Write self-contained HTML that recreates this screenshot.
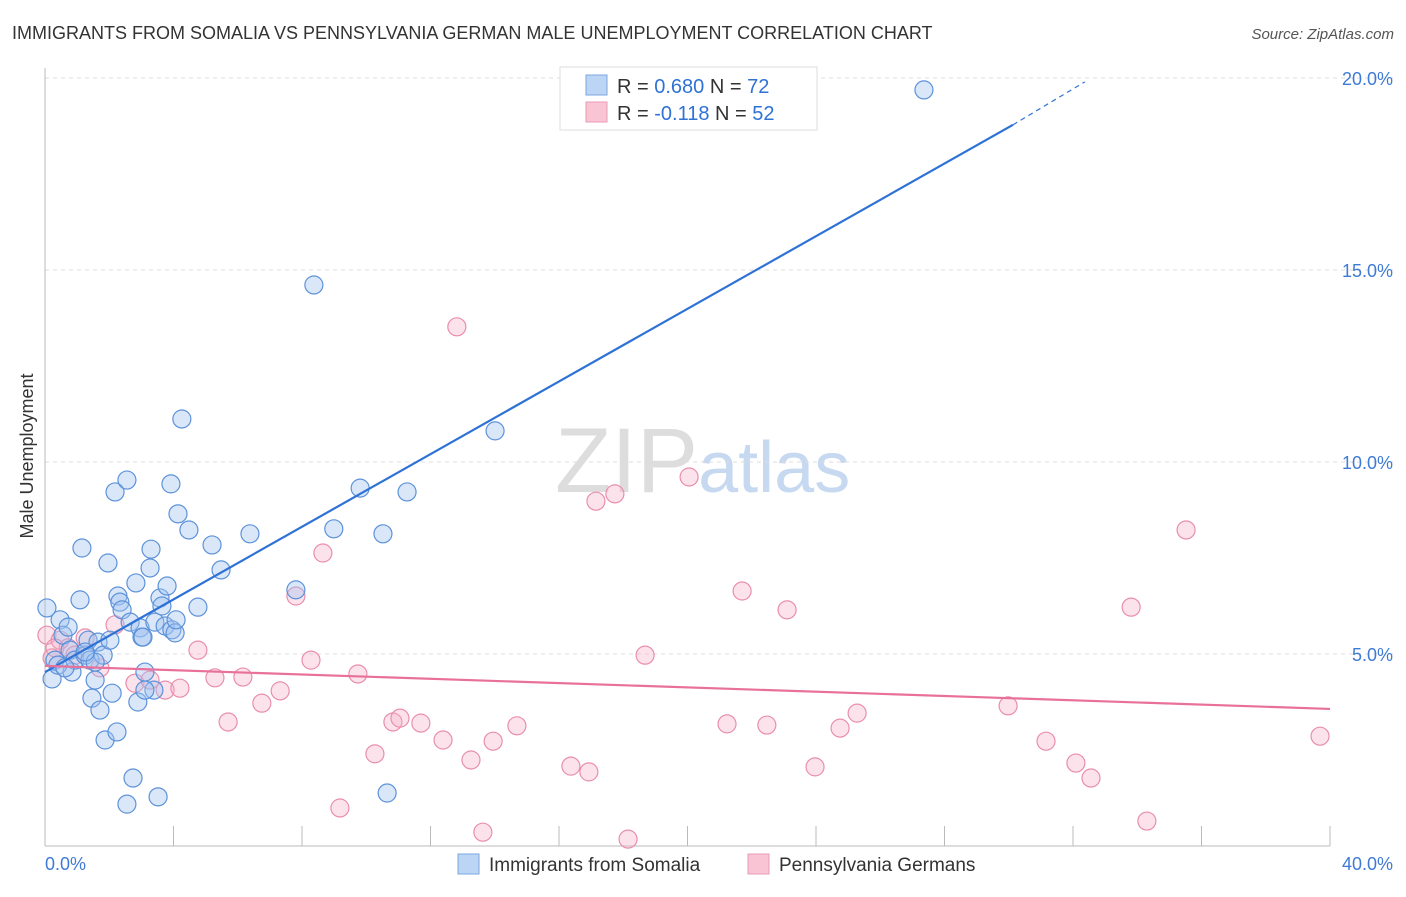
<!DOCTYPE html>
<html><head><meta charset="utf-8"><style>
body{margin:0;background:#fff;font-family:"Liberation Sans",sans-serif;}
svg text{font-family:"Liberation Sans",sans-serif;}
</style></head><body>
<svg id="chart" width="1406" height="892" xmlns="http://www.w3.org/2000/svg">
<text x="12" y="39" font-size="18" fill="#333">IMMIGRANTS FROM SOMALIA VS PENNSYLVANIA GERMAN MALE UNEMPLOYMENT CORRELATION CHART</text>
<text x="1394" y="39" font-size="15" fill="#555" font-style="italic" text-anchor="end">Source: ZipAtlas.com</text>
<text x="555" y="492" font-size="92" font-family="Liberation Serif" fill="#ddd">ZIP<tspan fill="#c6d9f0" font-family="Liberation Sans" font-size="72">atlas</tspan></text>
<text transform="translate(33,456) rotate(-90)" font-size="18" fill="#333" text-anchor="middle">Male Unemployment</text>
<g id="grid"></g><g id="axes"></g><g id="pts"></g><g id="lines"></g>
<g>
<rect x="560" y="67" width="257" height="63" fill="#fff" stroke="#ddd"/>
<rect x="586" y="75" width="21" height="20" fill="#bcd5f5" stroke="#7aa6e0"/>
<rect x="586" y="102" width="21" height="20" fill="#f9c5d5" stroke="#ec9ab4"/>
<text x="617" y="93" font-size="20" fill="#333">R = <tspan fill="#2f72d6">0.680</tspan>   N = <tspan fill="#2f72d6">72</tspan></text>
<text x="617" y="120" font-size="20" fill="#333">R = <tspan fill="#2f72d6">-0.118</tspan>   N = <tspan fill="#2f72d6">52</tspan></text>
</g>
<g>
<rect x="458" y="854" width="21" height="20" fill="#bcd5f5" stroke="#7aa6e0"/>
<text x="489" y="871" font-size="19" fill="#333">Immigrants from Somalia</text>
<rect x="748" y="854" width="21" height="20" fill="#f9c5d5" stroke="#ec9ab4"/>
<text x="779" y="871" font-size="19" fill="#333">Pennsylvania Germans</text>
</g>
</svg>
<script>
const blueX=[0.06,0.22,0.31,0.47,0.56,0.72,0.78,0.84,0.93,1.09,1.15,1.25,1.34,1.40,1.46,1.56,1.65,1.71,1.81,1.87,1.96,2.09,2.18,2.24,2.27,2.33,2.40,2.55,2.65,2.55,2.74,2.83,2.89,2.96,3.02,3.05,3.27,3.30,3.39,3.42,3.52,3.58,3.64,3.74,3.80,3.92,3.95,4.05,4.08,4.14,4.26,4.48,4.76,5.20,5.48,6.38,7.81,8.37,8.99,9.81,10.52,10.65,11.27,14.01,27.36,3.11,3.11,2.02,0.40,0.62,1.56,1.25];
const blueY=[6.20,4.35,4.84,5.89,5.49,5.70,5.10,4.53,4.84,6.41,7.76,4.97,5.36,4.84,3.85,4.32,5.31,3.54,4.97,2.76,7.37,3.98,9.22,2.97,6.51,6.35,6.15,9.53,5.83,1.09,1.77,6.85,3.75,5.68,5.44,5.44,7.24,7.73,4.06,5.83,1.28,6.46,6.25,5.73,6.77,9.43,5.63,5.55,5.89,8.65,11.12,8.23,6.22,7.84,7.19,8.13,6.67,14.61,8.26,9.32,8.13,1.38,9.22,10.81,19.69,4.53,4.06,5.36,4.71,4.64,4.79,5.05];
const pinkX=[0.06,0.22,0.47,0.72,0.93,1.25,1.71,2.18,2.80,3.27,3.74,4.20,4.76,5.29,5.70,6.16,6.75,7.32,7.81,8.28,8.65,9.18,9.74,10.27,10.83,11.05,11.70,12.39,12.82,13.26,13.63,13.95,14.69,16.37,16.93,17.15,17.74,18.15,18.68,20.05,21.23,21.70,22.47,23.10,23.97,24.75,25.28,29.98,31.16,32.09,32.56,33.81,34.30,35.52,39.69,0.31];
const pinkY=[5.49,4.90,5.36,5.16,4.97,5.42,4.64,5.76,4.24,4.32,4.06,4.11,5.10,4.38,3.23,4.40,3.72,4.04,6.51,4.84,7.63,0.99,4.48,2.40,3.23,3.33,3.20,2.76,13.52,2.24,0.36,2.73,3.13,2.08,1.93,8.98,9.17,0.18,4.97,9.61,3.18,6.64,3.15,6.15,2.06,3.07,3.46,3.65,2.73,2.16,1.77,6.22,0.65,8.23,2.86,5.16];
const blueTrend=[[0,4.53],[30.13,18.78]];
const blueTrendExt=[[30.13,18.78],[32.37,19.9]];
const pinkTrend=[[0,4.69],[40,3.57]];
const yTicks=[5,10,15,20];
const yTickLabels=["5.0%","10.0%","15.0%","20.0%"];
const xTicks=[0,4,8,12,16,20,24,28,32,36,40];

const NS="http://www.w3.org/2000/svg";
const sx=v=>45+v*32.125, sy=v=>846-v*38.4;
function mk(tag,attrs,parent){const e=document.createElementNS(NS,tag);for(const k in attrs)e.setAttribute(k,attrs[k]);document.getElementById(parent).appendChild(e);return e;}
yTicks.forEach((t,i)=>{
  const g=mk('line',{x1:45,x2:1393,y1:sy(t),y2:sy(t),stroke:'#ddd','stroke-dasharray':'4,4'},'grid');
  
  
  const l=mk('text',{x:1393,y:sy(t)+7,'font-size':18,fill:'#3f7bd6','text-anchor':'end'},'grid');
  l.textContent=yTickLabels[i];
  
  
});
const ax=mk('line',{x1:45,x2:1330,y1:846,y2:846,stroke:'#bbb'},'axes');


const ay=mk('line',{x1:45,x2:45,y1:68,y2:846,stroke:'#bbb'},'axes');


xTicks.forEach(t=>{
  const tk=mk('line',{x1:sx(t),x2:sx(t),y1:826,y2:846,stroke:'#bbb'},'axes');
  
  
});
const x0=mk('text',{x:45,y:870,'font-size':18,fill:'#3f7bd6'},'axes');x0.textContent='0.0%';


const x1=mk('text',{x:1393,y:870,'font-size':18,fill:'#3f7bd6','text-anchor':'end'},'axes');x1.textContent='40.0%';


pinkX.forEach((v,i)=>{
  const c=mk('circle',{cx:sx(v),cy:sy(pinkY[i]),r:9,fill:'rgba(245,175,198,0.35)',stroke:'#e98eae','stroke-width':1.2},'pts');
  
  
});
blueX.forEach((v,i)=>{
  const c=mk('circle',{cx:sx(v),cy:sy(blueY[i]),r:9,fill:'rgba(160,196,240,0.4)',stroke:'#5d92da','stroke-width':1.2},'pts');
  
  
});
const bl=mk('line',{x1:sx(blueTrend[0][0]),y1:sy(blueTrend[0][1]),x2:sx(blueTrend[1][0]),y2:sy(blueTrend[1][1]),stroke:'#2f72d6','stroke-width':2.2},'lines');


const bd=mk('line',{x1:sx(blueTrendExt[0][0]),y1:sy(blueTrendExt[0][1]),x2:sx(blueTrendExt[1][0]),y2:sy(blueTrendExt[1][1]),stroke:'#2f72d6','stroke-width':1.2,'stroke-dasharray':'5,4'},'lines');


const pl=mk('line',{x1:sx(pinkTrend[0][0]),y1:sy(pinkTrend[0][1]),x2:sx(pinkTrend[1][0]),y2:sy(pinkTrend[1][1]),stroke:'#e8709a','stroke-width':2.2},'lines');


</script>
</body></html>
